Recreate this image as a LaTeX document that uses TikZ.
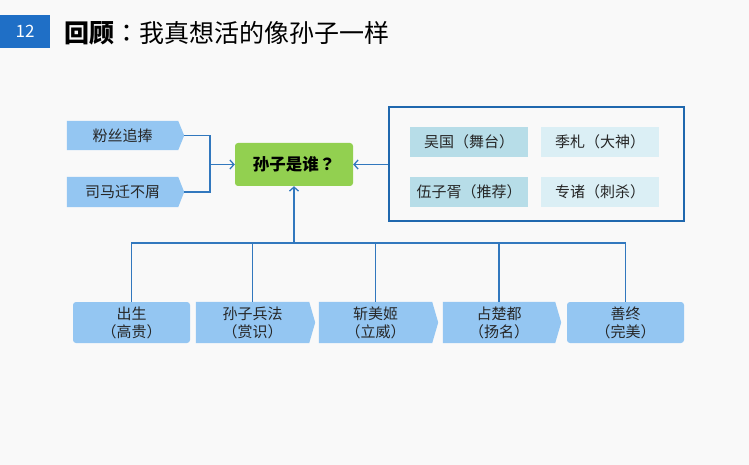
\documentclass[tikz,border=0pt]{standalone}
\usepackage{fontspec}
\setmainfont{Noto Sans CJK SC}
\newfontfamily\tcpunct{Noto Sans CJK TC}
\usetikzlibrary{arrows.meta,backgrounds}
\definecolor{bg}{HTML}{F9F9F9}
\definecolor{numblue}{HTML}{1F6FC6}
\definecolor{lineblue}{HTML}{3278BE}
\definecolor{frameblue}{HTML}{2068AE}
\definecolor{boxblue}{HTML}{94C6F2}
\definecolor{green1}{HTML}{92D050}
\definecolor{tealA}{HTML}{B7DDE8}
\definecolor{tealB}{HTML}{DBEFF5}
\tikzset{
  conn/.style={draw=lineblue,line width=1.3pt},
  arr/.style={-{Straight Barb[length=4pt,width=9pt]}},
  body/.style={inner sep=0pt,align=center,font=\fontsize{15}{18}\selectfont,text=black!85},
  inbox/.style={body,minimum width=118pt,minimum height=30pt},
  botbox/.style={body,minimum height=41pt},
  shapefill/.style={fill=boxblue}
}
\begin{document}
\begin{tikzpicture}[x=1pt,y=-1pt]
\begin{scope}[on background layer]
\fill[bg] (0,0) rectangle (749,465);
\end{scope}
\useasboundingbox (0,0) rectangle (749,465);
% header
\node[fill=numblue,text=white,minimum width=50pt,minimum height=33pt,inner sep=0pt,font=\fontsize{17}{20}\selectfont] (num) at (25,31.5) {12};
\node[anchor=west,inner sep=0pt,font=\fontsize{25}{29}\selectfont] (title) at (64,33) {\textbf{回顾}{\tcpunct ：}我真想活的像孙子一样};
% left pentagons
\node[body,minimum width=111pt,minimum height=29pt] (p1) at (122.5,135.5) {粉丝追捧};
\node[body,minimum width=111pt,minimum height=30pt] (p2) at (122.5,192) {司马迁不屑};
\coordinate (p1tip) at ([xshift=6pt]p1.east);
\coordinate (p2tip) at ([xshift=6pt]p2.east);
% centre
\node[fill=green1,rounded corners=3pt,minimum width=118pt,minimum height=43pt,inner sep=0pt,font=\bfseries\fontsize{16.5}{20}\selectfont] (q) at (294,164.5) {孙子是谁{\tcpunct ？}};
% right frame
\node[draw=frameblue,line width=1.8pt,minimum width=295pt,minimum height=114pt,inner sep=0pt] (frame) at (536.5,164) {};
\node[inbox,fill=tealA] (wu) at (469,142) {吴国（舞台）};
\node[inbox,fill=tealB] (ji) at (600,142) {季札（大神）};
\node[inbox,fill=tealA] (zx) at (469,192) {伍子胥（推荐）};
\node[inbox,fill=tealB] (zz) at (600,192) {专诸（刺杀）};
% bottom boxes
\node[botbox,fill=boxblue,rounded corners=3pt,minimum width=117pt] (b1) at (131.5,322.5) {出生\\（高贵）};
\node[botbox,minimum width=113pt] (b2) at (252.5,322.5) {孙子兵法\\（赏识）};
\node[botbox,minimum width=113pt] (b3) at (375.5,322.5) {斩美姬\\（立威）};
\node[botbox,minimum width=112pt] (b4) at (499,322.5) {占楚都\\（扬名）};
\node[botbox,fill=boxblue,rounded corners=3pt,minimum width=117pt] (b5) at (625.5,322.5) {善终\\（完美）};
\begin{scope}[on background layer]
\foreach \n in {p1,p2,b2,b3,b4}{
  \fill[shapefill] (\n.north west) -- (\n.north east) -- ([xshift=6pt]\n.east) -- (\n.south east) -- (\n.south west) -- cycle;
}
\end{scope}
% connectors
\coordinate (lj) at (210,164.5);
\coordinate (hub) at (294,243);
\draw[conn] (p1tip) -| (lj);
\draw[conn] (p2tip) -| (lj);
\draw[conn,arr] (lj) -- (q.west);
\draw[conn,arr] (frame.west |- q.east) -- (q.east);
\draw[conn,arr] (hub) -- (q.south);
\foreach \n in {b1,b2,b3,b4,b5}{
  \draw[conn] (\n.north) |- (hub);
}
\end{tikzpicture}
\end{document}
